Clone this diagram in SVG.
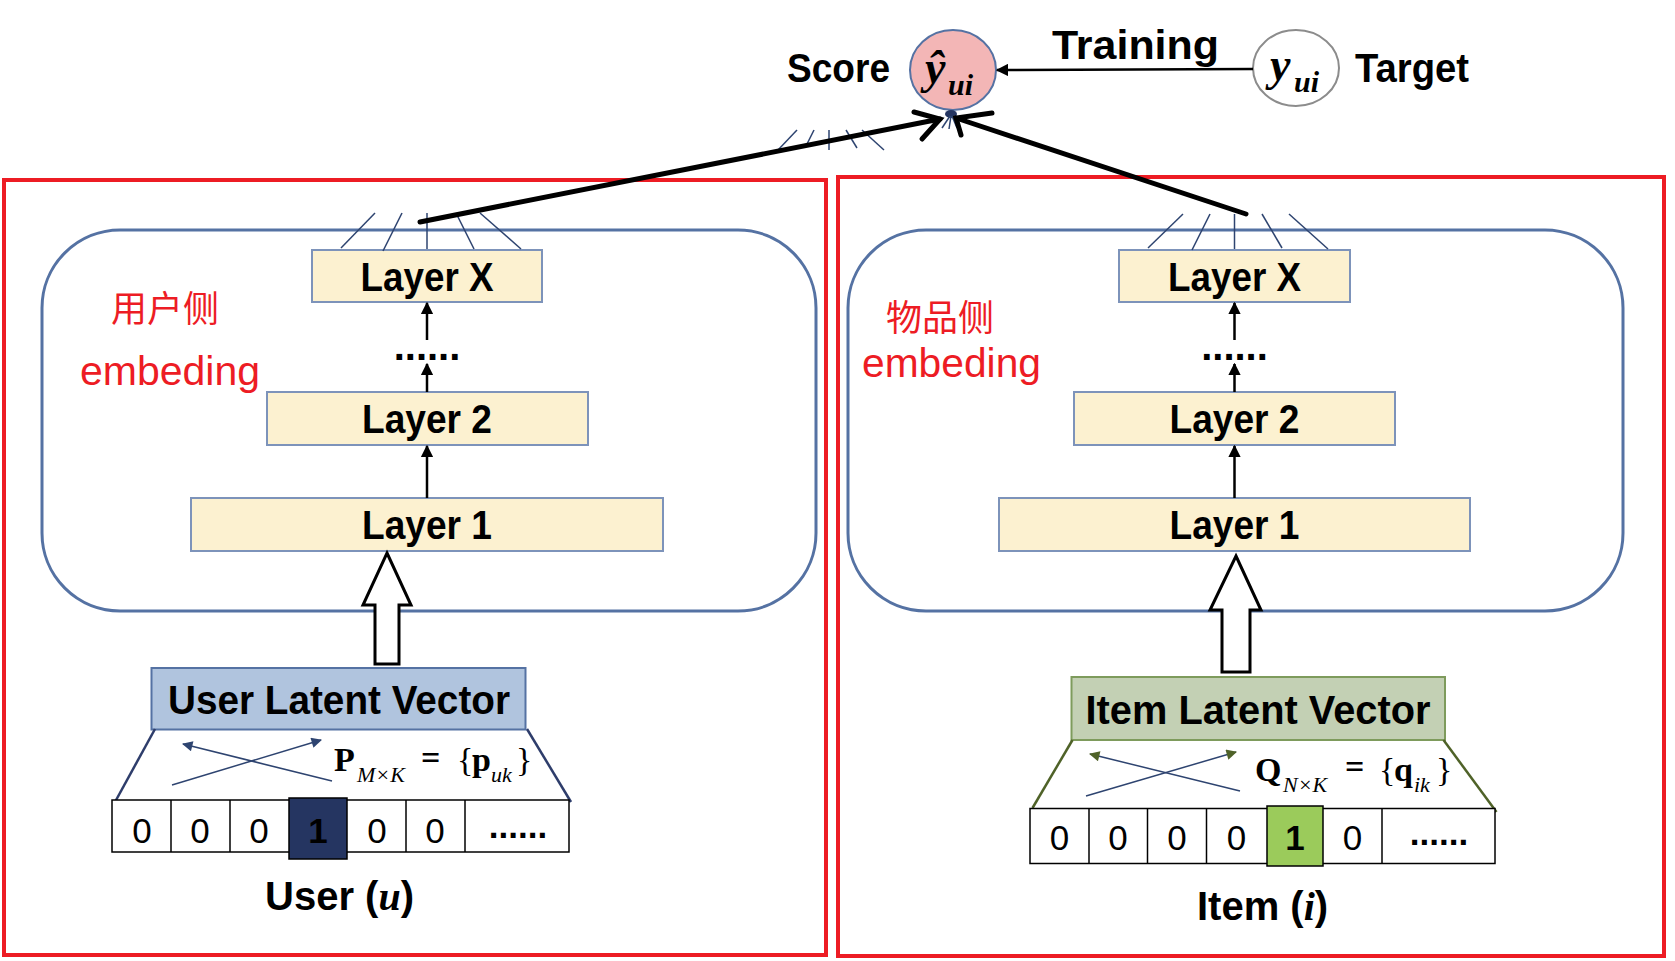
<svg xmlns="http://www.w3.org/2000/svg" width="1675" height="961" viewBox="0 0 1675 961">
<defs>
<style>
.red{fill:none;stroke:#ED1C24;stroke-width:4}
.panel{fill:none;stroke:#5572A3;stroke-width:3}
.layer{fill:#FCF1D0;stroke:#7D93BA;stroke-width:2}
.lt{font-family:"Liberation Sans",Arial,sans-serif;font-weight:bold;font-size:40px;fill:#000;text-anchor:middle}
.lbl{font-family:"Liberation Sans",Arial,sans-serif;font-weight:bold;font-size:40px;fill:#000}
.cn{font-family:"Noto Sans CJK SC",sans-serif;font-size:36px;fill:#ED1C24}
.emb{font-family:"Liberation Sans",Arial,sans-serif;font-size:41px;fill:#ED1C24}
.dig{font-family:"Liberation Sans",Arial,sans-serif;font-size:35px;fill:#000;text-anchor:middle}
.math{font-family:"Liberation Serif","Times New Roman",serif;fill:#000}
.thin{stroke:#2E4470;stroke-width:1.5;fill:none}
.conn{stroke:#000;stroke-width:2.5;fill:none}
.thick{stroke:#000;stroke-width:5;fill:none;stroke-linecap:round}
.hollow{fill:#fff;stroke:#000;stroke-width:3;stroke-linejoin:miter}
.cell{fill:#fff;stroke:#000;stroke-width:1.5}
</style>
<marker id="ah" viewBox="0 0 10 10" refX="9" refY="5" markerWidth="5" markerHeight="5" orient="auto" markerUnits="strokeWidth">
<path d="M0,0 L10,5 L0,10 Z" fill="#000"/>
</marker>
<marker id="ahb" viewBox="0 0 10 10" refX="9" refY="5" markerWidth="9" markerHeight="7" orient="auto" markerUnits="strokeWidth">
<path d="M0,0 L10,5 L0,10 Z" fill="#2E4470"/>
</marker>
<marker id="ahg" viewBox="0 0 10 10" refX="9" refY="5" markerWidth="9" markerHeight="7" orient="auto" markerUnits="strokeWidth">
<path d="M0,0 L10,5 L0,10 Z" fill="#4F6228"/>
</marker>
</defs>
<rect width="1675" height="961" fill="#fff"/>

<!-- red frames -->
<rect id="user-frame" class="red" x="4" y="180" width="822" height="775"/>
<rect id="item-frame" class="red" x="838" y="177" width="826" height="779"/>

<!-- panels -->
<rect id="user-panel" class="panel" x="42" y="230" width="774" height="381" rx="78" ry="78"/>
<rect id="item-panel" class="panel" x="848" y="230" width="775" height="381" rx="78" ry="78"/>

<g id="user-label">
<text class="cn" x="111" y="322">用户侧</text>
<text class="emb" x="80" y="385" textLength="180" lengthAdjust="spacingAndGlyphs">embeding</text>
</g>
<g id="item-label">
<text class="cn" x="886" y="331">物品侧</text>
<text class="emb" x="862" y="377" textLength="179" lengthAdjust="spacingAndGlyphs">embeding</text>
</g>

<!-- user layers -->
<g id="user-layerX"><rect class="layer" x="312" y="250" width="230" height="52"/><text class="lt" x="427" y="291" textLength="133" lengthAdjust="spacingAndGlyphs">Layer X</text></g>
<g id="user-layer2"><rect class="layer" x="267" y="392" width="321" height="53"/><text class="lt" x="427" y="433" textLength="130" lengthAdjust="spacingAndGlyphs">Layer 2</text></g>
<g id="user-layer1"><rect class="layer" x="191" y="498" width="472" height="53"/><text class="lt" x="427" y="539" textLength="130" lengthAdjust="spacingAndGlyphs">Layer 1</text></g>
<g id="user-dots"><text class="lt" x="427" y="360" font-size="32">......</text></g>

<!-- item layers -->
<g id="item-layerX"><rect class="layer" x="1119" y="250" width="231" height="52"/><text class="lt" x="1234.5" y="291" textLength="133" lengthAdjust="spacingAndGlyphs">Layer X</text></g>
<g id="item-layer2"><rect class="layer" x="1074" y="392" width="321" height="53"/><text class="lt" x="1234.5" y="433" textLength="130" lengthAdjust="spacingAndGlyphs">Layer 2</text></g>
<g id="item-layer1"><rect class="layer" x="999" y="498" width="471" height="53"/><text class="lt" x="1234.5" y="539" textLength="130" lengthAdjust="spacingAndGlyphs">Layer 1</text></g>
<g id="item-dots"><text class="lt" x="1234.5" y="360" font-size="32">......</text></g>

<!-- score / target -->
<g id="score">
<text class="lbl" x="787" y="82" textLength="103" lengthAdjust="spacingAndGlyphs">Score</text>
<ellipse cx="953" cy="70" rx="43" ry="40" fill="#F3B6B6" stroke="#5572A3" stroke-width="2"/>
<text class="math" x="925" y="83" font-size="46" font-weight="bold" font-style="italic">ŷ</text>
<text class="math" x="948" y="95" font-size="30" font-weight="bold" font-style="italic">ui</text>
<ellipse cx="951" cy="114" rx="6" ry="4" fill="#253561"/>
</g>
<g id="target">
<ellipse cx="1296" cy="68" rx="43" ry="38" fill="#fff" stroke="#8C8C8C" stroke-width="2"/>
<text class="math" x="1270" y="80" font-size="46" font-weight="bold" font-style="italic">y</text>
<text class="math" x="1294" y="92" font-size="30" font-weight="bold" font-style="italic">ui</text>
<text class="lbl" x="1355" y="82" textLength="114" lengthAdjust="spacingAndGlyphs">Target</text>
</g>
<g id="training-label"><text class="lbl" x="1052" y="59" font-size="46" textLength="167" lengthAdjust="spacingAndGlyphs">Training</text></g>

<!-- user latent vector -->
<g id="user-vector">
<rect x="151.5" y="668" width="374" height="61.5" fill="#B0C4DE" stroke="#5572A3" stroke-width="2"/>
<text class="lt" x="339" y="714" textLength="342" lengthAdjust="spacingAndGlyphs">User Latent Vector</text>
<line x1="155" y1="729" x2="115" y2="802" stroke="#2E3D6B" stroke-width="2.5"/>
<line x1="527" y1="729" x2="571" y2="802" stroke="#2E3D6B" stroke-width="2.5"/>
<line class="thin" x1="172" y1="785" x2="321" y2="740" marker-end="url(#ahb)"/>
<line class="thin" x1="332" y1="781" x2="183" y2="744" marker-end="url(#ahb)"/>
<text class="math" x="334" y="771" font-size="34" font-weight="bold">P</text>
<text class="math" x="357" y="782" font-size="22" font-style="italic">M×K</text>
<text class="math" x="421" y="769" font-size="34" font-weight="bold">=</text>
<text class="math" x="457" y="771" font-size="34">{</text>
<text class="math" x="472" y="771" font-size="34" font-weight="bold">p</text>
<text class="math" x="491" y="782" font-size="22" font-style="italic">uk</text>
<text class="math" x="516" y="771" font-size="34">}</text>
<rect class="cell" x="112" y="800" width="457" height="52" stroke-width="2.5"/>
<line class="cell" x1="171" y1="800" x2="171" y2="852"/>
<line class="cell" x1="230" y1="800" x2="230" y2="852"/>
<line class="cell" x1="406" y1="800" x2="406" y2="852"/>
<line class="cell" x1="465" y1="800" x2="465" y2="852"/>
<rect x="289" y="798" width="58" height="61" fill="#253561" stroke="#000" stroke-width="1.5"/>
<text class="dig" x="142" y="843">0</text>
<text class="dig" x="200" y="843">0</text>
<text class="dig" x="259" y="843">0</text>
<text class="dig" x="318" y="843" fill="#fff" font-weight="bold">1</text>
<text class="dig" x="377" y="843">0</text>
<text class="dig" x="435" y="843">0</text>
<text class="dig" x="518" y="838" font-size="24" font-weight="bold">......</text>
<text class="lbl" x="265" y="910">User (<tspan class="math" font-style="italic" font-size="40">u</tspan>)</text>
</g>

<!-- item latent vector -->
<g id="item-vector">
<rect x="1071.5" y="677" width="373.5" height="63" fill="#C3D0B4" stroke="#7E9B5C" stroke-width="2"/>
<text class="lt" x="1258" y="724" textLength="345" lengthAdjust="spacingAndGlyphs">Item Latent Vector</text>
<line x1="1072.5" y1="740" x2="1032.5" y2="808" stroke="#4F6228" stroke-width="2.5"/>
<line x1="1443.5" y1="740" x2="1496.5" y2="812" stroke="#4F6228" stroke-width="2.5"/>
<line class="thin" stroke="#4F6228" x1="1086" y1="796" x2="1236" y2="752" marker-end="url(#ahg)"/>
<line class="thin" stroke="#4F6228" x1="1240" y1="791" x2="1090" y2="754" marker-end="url(#ahg)"/>
<text class="math" x="1255" y="781" font-size="34" font-weight="bold">Q</text>
<text class="math" x="1283" y="792" font-size="22" font-style="italic">N×K</text>
<text class="math" x="1345" y="778" font-size="34" font-weight="bold">=</text>
<text class="math" x="1379" y="781" font-size="34">{</text>
<text class="math" x="1394" y="781" font-size="34" font-weight="bold">q</text>
<text class="math" x="1414" y="792" font-size="22" font-style="italic">ik</text>
<text class="math" x="1436" y="781" font-size="34">}</text>
<rect class="cell" x="1030" y="808.5" width="465" height="55" stroke-width="2.5"/>
<line class="cell" x1="1089" y1="808.5" x2="1089" y2="863.5"/>
<line class="cell" x1="1147.5" y1="808.5" x2="1147.5" y2="863.5"/>
<line class="cell" x1="1206.5" y1="808.5" x2="1206.5" y2="863.5"/>
<line class="cell" x1="1382" y1="808.5" x2="1382" y2="863.5"/>
<rect x="1267" y="806" width="56" height="60" fill="#9BCB5B" stroke="#000" stroke-width="1.5"/>
<text class="dig" x="1059.5" y="850">0</text>
<text class="dig" x="1118" y="850">0</text>
<text class="dig" x="1177" y="850">0</text>
<text class="dig" x="1236.5" y="850">0</text>
<text class="dig" x="1295" y="850" font-weight="bold">1</text>
<text class="dig" x="1352.5" y="850">0</text>
<text class="dig" x="1439" y="845" font-size="24" font-weight="bold">......</text>
<text class="lbl" x="1197" y="920">Item (<tspan class="math" font-style="italic" font-size="40">i</tspan>)</text>
</g>

<!-- connectors -->
<g id="connectors">
<line class="conn" x1="427" y1="498" x2="427" y2="446" marker-end="url(#ah)"/>
<line class="conn" x1="427" y1="392" x2="427" y2="364" marker-end="url(#ah)"/>
<line class="conn" x1="427" y1="340" x2="427" y2="303" marker-end="url(#ah)"/>
<line class="conn" x1="1234.5" y1="498" x2="1234.5" y2="446" marker-end="url(#ah)"/>
<line class="conn" x1="1234.5" y1="392" x2="1234.5" y2="364" marker-end="url(#ah)"/>
<line class="conn" x1="1234.5" y1="340" x2="1234.5" y2="303" marker-end="url(#ah)"/>
<path class="hollow" d="M387,553 L411,605 L399,605 L399,664 L375,664 L375,605 L363,605 Z"/>
<path class="hollow" d="M1236,556 L1261,610 L1250,610 L1250,672 L1222,672 L1222,610 L1210,610 Z"/>
<g class="thin">
<line x1="341" y1="248" x2="375" y2="213"/><line x1="383" y1="251" x2="402" y2="213"/><line x1="427" y1="249" x2="427" y2="213"/><line x1="474" y1="249" x2="456" y2="213"/><line x1="521" y1="249" x2="480" y2="213"/>
<line x1="1148" y1="248" x2="1183" y2="214"/><line x1="1192" y1="250" x2="1210" y2="214"/><line x1="1234.5" y1="249" x2="1234.5" y2="214"/><line x1="1282" y1="248" x2="1262" y2="214"/><line x1="1328" y1="249" x2="1289" y2="214"/>
<line x1="797" y1="130" x2="778" y2="150"/><line x1="814" y1="130" x2="806" y2="146"/><line x1="829" y1="130" x2="829" y2="150"/><line x1="846" y1="130" x2="857" y2="148"/><line x1="862" y1="130" x2="884" y2="150"/>
<line x1="950" y1="116" x2="942" y2="128"/><line x1="951" y1="116" x2="949" y2="129"/><line x1="952" y1="116" x2="957" y2="128"/>
</g>
<path class="thick" d="M420,222 L940,119"/>
<path class="thick" d="M914,112 L940,119 L922,139"/>
<path class="thick" d="M1246,214 L956,118"/>
<path class="thick" d="M992,113 L956,118 L961,135"/>
<line x1="1253" y1="69" x2="997" y2="70" stroke="#000" stroke-width="2.5" marker-end="url(#ah)"/>
</g>
</svg>
